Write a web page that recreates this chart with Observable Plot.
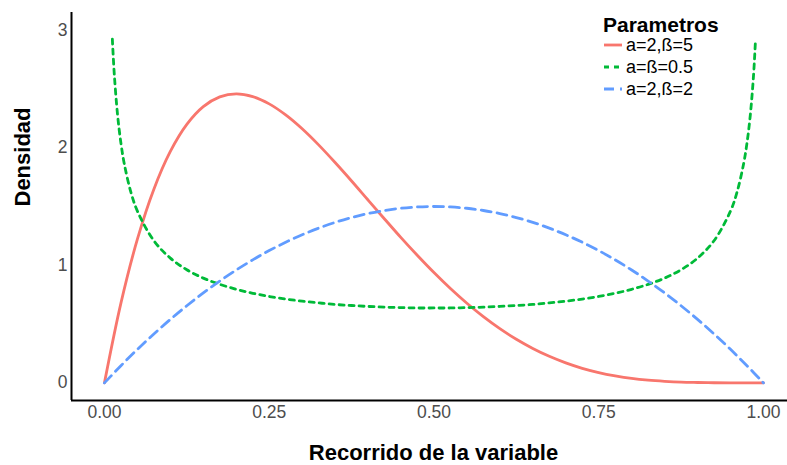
<!DOCTYPE html>
<html>
<head>
<meta charset="utf-8">
<script src="https://cdn.jsdelivr.net/npm/d3@7"></script>
<script src="https://cdn.jsdelivr.net/npm/@observablehq/plot@0.6"></script>
<style>
  body { margin: 0; background: #fff; font-family: "Liberation Sans", Arial, sans-serif; }
  #chart { position: relative; width: 787px; height: 465px; }
  #legend { position: absolute; left: 598px; top: 0; }
</style>
</head>
<body>
<div id="chart"></div>
<script>
// Sample points along the variable's range
const xGrid = [0, 0.025, 0.05, 0.075, 0.1, 0.125, 0.15, 0.175, 0.2, 0.225, 0.25, 0.275, 0.3, 0.325, 0.35, 0.375, 0.4, 0.425, 0.45, 0.475, 0.5,
  0.525, 0.55, 0.575, 0.6, 0.625, 0.65, 0.675, 0.7, 0.725, 0.75, 0.775, 0.8, 0.825, 0.85, 0.875, 0.9, 0.925, 0.95, 0.975, 1];

// Density, a=2, ß=5
const densA2B5 = [0, 0.678, 1.222, 1.647, 1.968, 2.198, 2.349, 2.432, 2.458, 2.435, 2.373, 2.279, 2.161, 2.024, 1.874, 1.717, 1.555, 1.394, 1.235, 1.083, 0.938,
  0.802, 0.677, 0.563, 0.461, 0.371, 0.293, 0.226, 0.170, 0.124, 0.088, 0.060, 0.038, 0.023, 0.013, 0.006, 0.003, 0.001, 0.0002, 0, 0];

// Density, a=2, ß=2
const densA2B2 = [0, 0.146, 0.285, 0.416, 0.540, 0.656, 0.765, 0.866, 0.960, 1.046, 1.125, 1.196, 1.260, 1.316, 1.365, 1.406, 1.440, 1.466, 1.485, 1.496, 1.500,
  1.496, 1.485, 1.466, 1.440, 1.406, 1.365, 1.316, 1.260, 1.196, 1.125, 1.046, 0.960, 0.866, 0.765, 0.656, 0.540, 0.416, 0.285, 0.146, 0];

// Density, a=ß=0.5 (denser sampling near the edges, values above 3 left out)
const xArcsine = [0.012, 0.015, 0.02, 0.025, 0.03, 0.04, 0.05, 0.075, 0.1, 0.125, 0.15, 0.175, 0.2, 0.225, 0.25, 0.275, 0.3, 0.325, 0.35, 0.375, 0.4, 0.425, 0.45, 0.475, 0.5,
  0.525, 0.55, 0.575, 0.6, 0.625, 0.65, 0.675, 0.7, 0.725, 0.75, 0.775, 0.8, 0.825, 0.85, 0.875, 0.9, 0.925, 0.95, 0.96, 0.97, 0.975, 0.98, 0.985, 0.988];
const densA05B05 = [2.923, 2.619, 2.274, 2.039, 1.866, 1.624, 1.461, 1.209, 1.061, 0.962, 0.891, 0.838, 0.796, 0.762, 0.735, 0.713, 0.695, 0.680, 0.667, 0.658, 0.650, 0.644, 0.640, 0.637, 0.637,
  0.637, 0.640, 0.644, 0.650, 0.658, 0.667, 0.680, 0.695, 0.713, 0.735, 0.762, 0.796, 0.838, 0.891, 0.962, 1.061, 1.209, 1.461, 1.624, 1.866, 2.039, 2.274, 2.619, 2.923];

const seriesLabels = ["a=2,ß=5", "a=ß=0.5", "a=2,ß=2"];
const seriesColors = ["#F8766D", "#00BA38", "#619CFF"];
const seriesDash = [null, "5,5", "10,6"];

const xTicks = [0, 0.25, 0.5, 0.75, 1];
const xTickLabels = ["0.00", "0.25", "0.50", "0.75", "1.00"];
const yTicks = [0, 1, 2, 3];

const legendTitle = "Parametros";
const xTitle = "Recorrido de la variable";
const yTitle = "Densidad";

const series = [
  { xs: xGrid, ys: densA2B5 },
  { xs: xArcsine, ys: densA05B05 },
  { xs: xGrid, ys: densA2B2 }
].map((s, i) => s.xs.map((x, j) => ({ x, y: s.ys[j], serie: seriesLabels[i] })));

const font = "'Liberation Sans', Arial, sans-serif";

const lineMarks = series.map((rows, i) =>
  Plot.line(rows, {
    x: "x", y: "y",
    stroke: seriesColors[i],
    strokeWidth: 2.8,
    strokeDasharray: seriesDash[i],
    curve: "catmull-rom"
  })
);

const chart = Plot.plot({
  width: 787,
  height: 465,
  marginLeft: 71,
  marginRight: 0,
  marginTop: 12,
  marginBottom: 65,
  style: { fontFamily: font, background: "#fff" },
  x: { domain: [-0.05, 1.0365] },
  y: { domain: [-0.15, 3.15] },
  marks: [
    Plot.axisX(xTicks, {
      tickSize: 0, tickPadding: 5,
      tickFormat: (d, i) => xTickLabels[i],
      fontSize: 17.5, fill: "#4d4d4d", label: null
    }),
    Plot.axisY(yTicks, {
      tickSize: 0, tickPadding: 4,
      tickFormat: d => String(d),
      fontSize: 17.5, fill: "#4d4d4d", label: null
    }),
    ...lineMarks,
    Plot.ruleX([-0.05], { stroke: "#000", strokeWidth: 2 }),
    Plot.ruleY([-0.15], { stroke: "#000", strokeWidth: 2 }),
    Plot.text([xTitle], {
      frameAnchor: "bottom", dy: 52, dx: 4,
      fontSize: 22, fontWeight: "bold", fill: "#000", lineAnchor: "middle"
    }),
    Plot.text([yTitle], {
      frameAnchor: "left", dx: -49, rotate: -90,
      fontSize: 22, fontWeight: "bold", fill: "#000", lineAnchor: "middle"
    })
  ]
});

const container = document.getElementById("chart");
container.appendChild(chart);

// Legend for the three parameter sets
const legend = d3.select(container).append("svg")
  .attr("id", "legend")
  .attr("width", 189)
  .attr("height", 100)
  .style("font-family", font);

legend.append("text")
  .attr("x", 5).attr("y", 32)
  .attr("font-size", 21).attr("font-weight", "bold").attr("fill", "#000")
  .text(legendTitle);

const rowY = [45, 67, 89];
seriesLabels.forEach((lab, i) => {
  legend.append("line")
    .attr("x1", 6).attr("x2", 24)
    .attr("y1", rowY[i]).attr("y2", rowY[i])
    .attr("stroke", seriesColors[i]).attr("stroke-width", 2.8)
    .attr("stroke-dasharray", seriesDash[i]);
  legend.append("text")
    .attr("x", 28).attr("y", rowY[i]).attr("dy", "0.35em")
    .attr("font-size", 18).attr("fill", "#000")
    .text(lab);
});
</script>
</body>
</html>
